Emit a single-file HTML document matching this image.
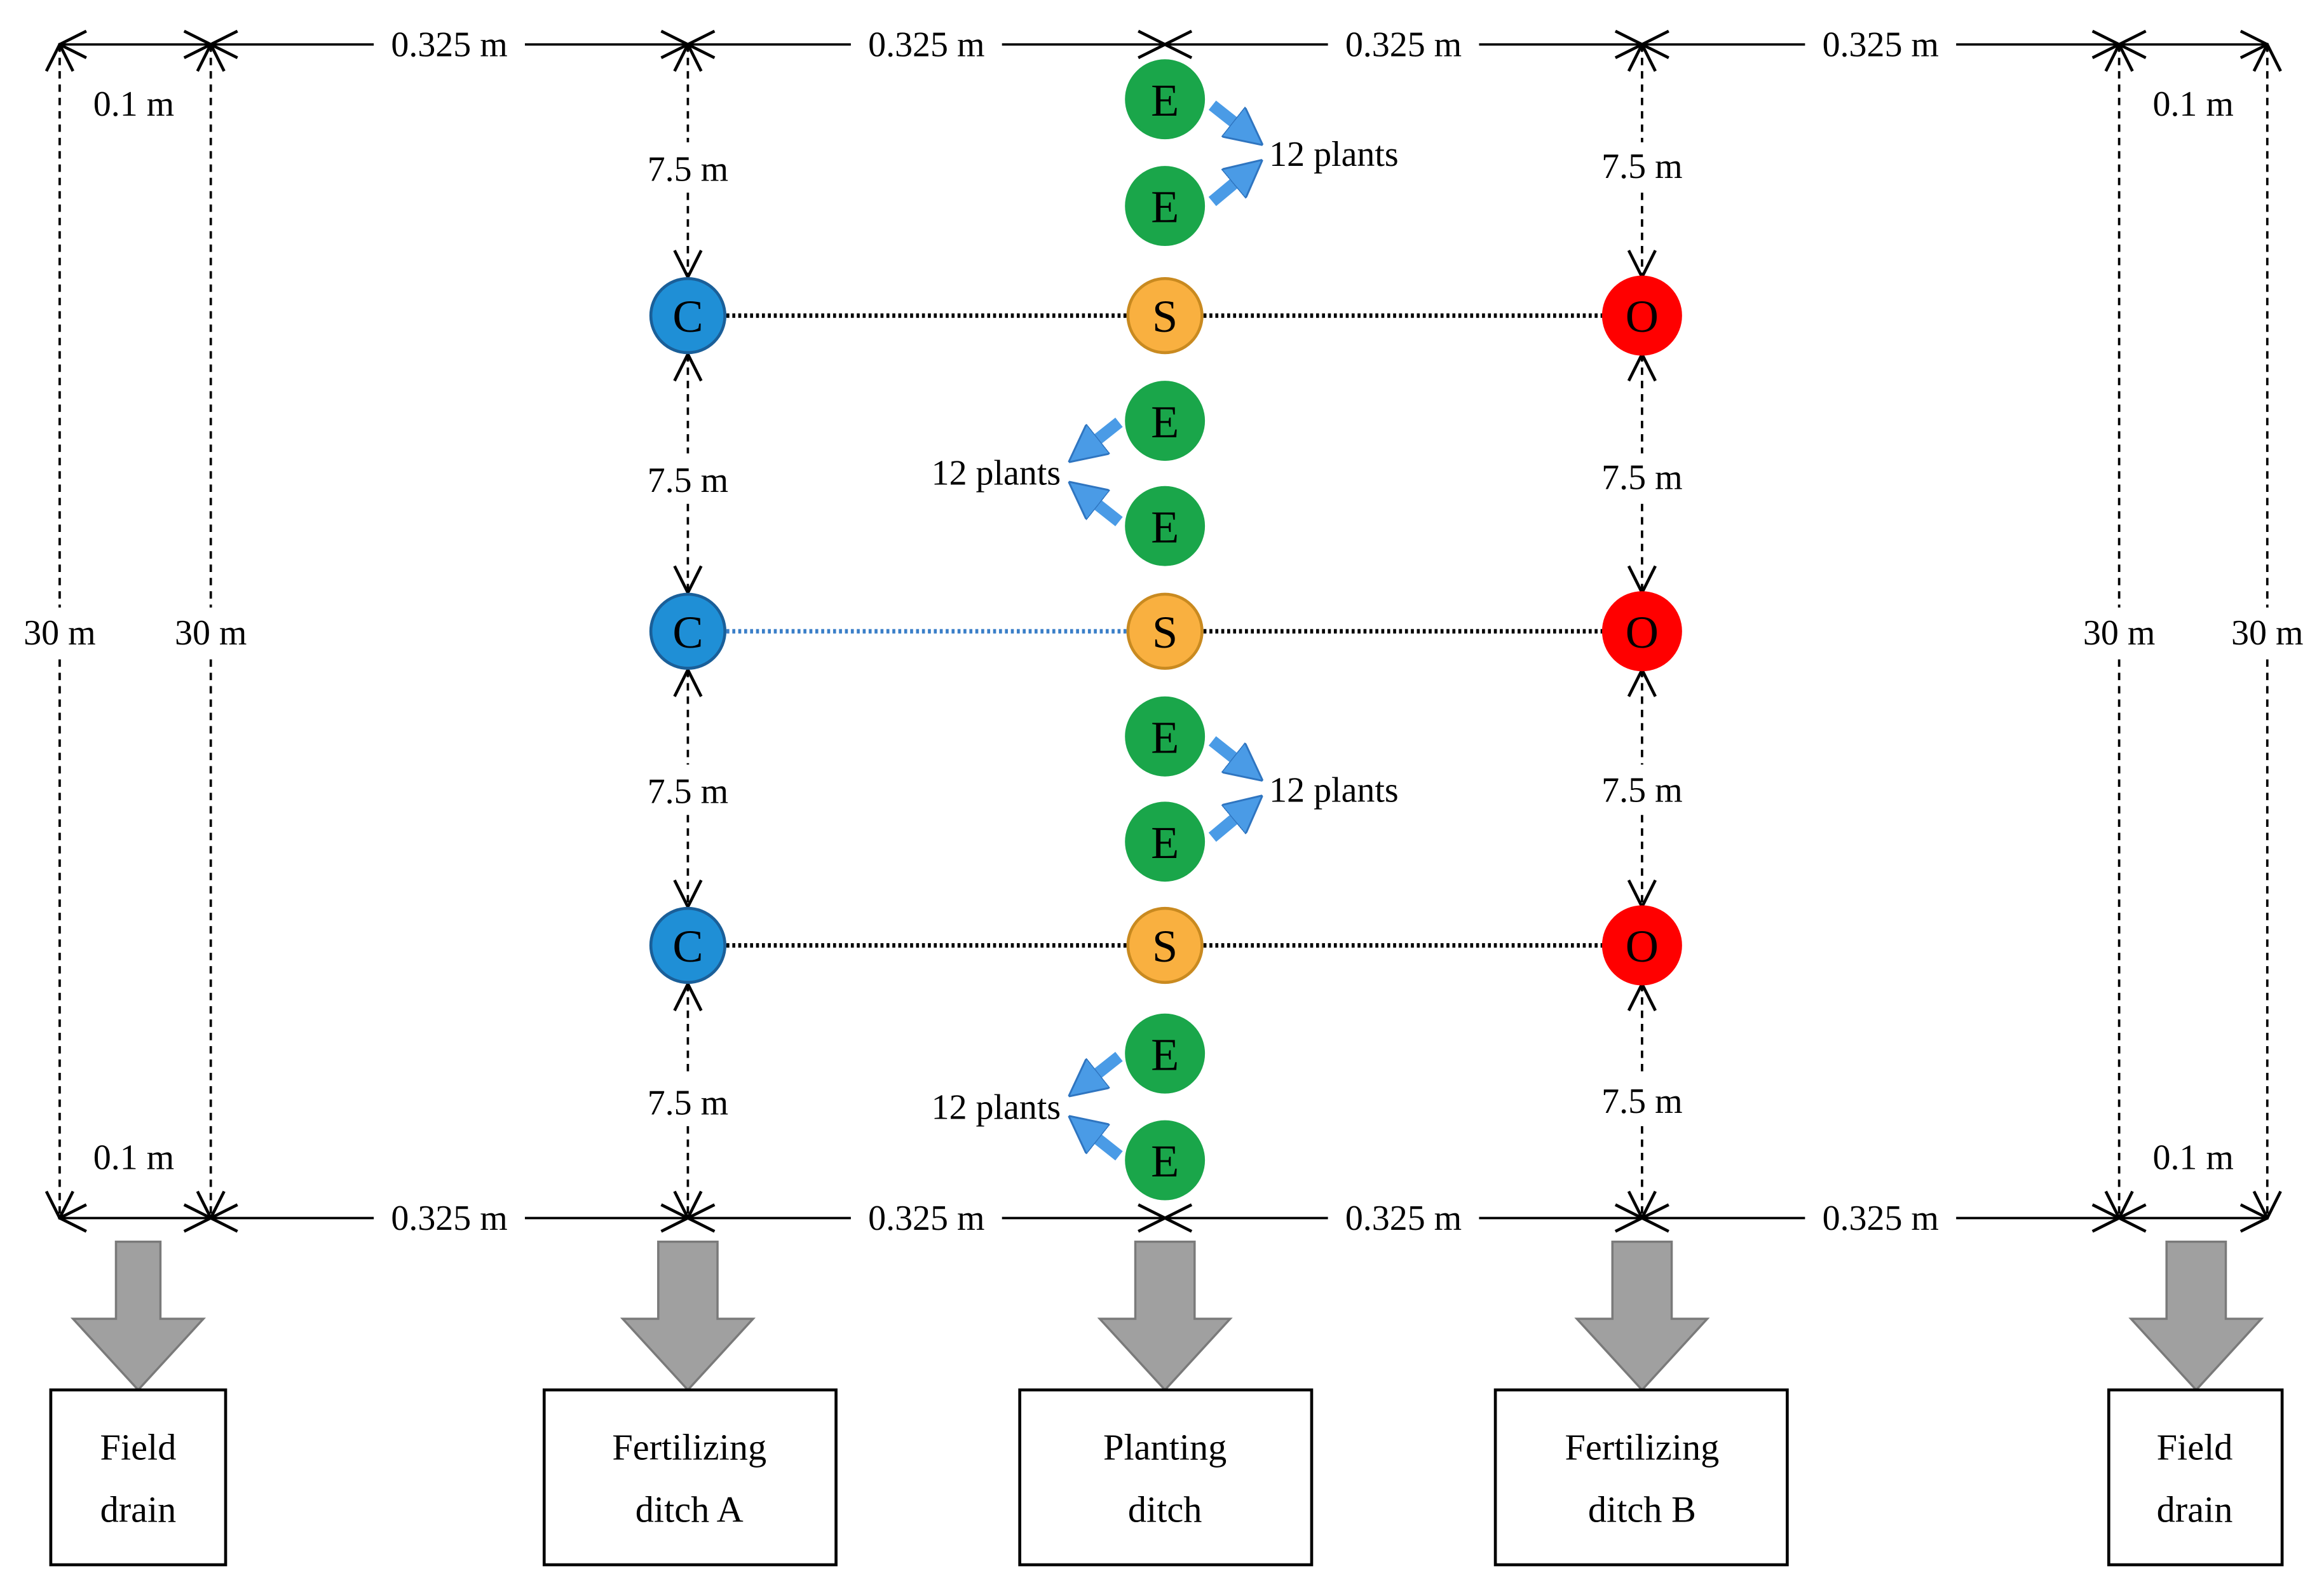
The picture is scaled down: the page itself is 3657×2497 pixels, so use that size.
<!DOCTYPE html>
<html><head><meta charset="utf-8"><style>
html,body{margin:0;padding:0;background:#fff;}
svg{display:block;}
text{font-family:"Liberation Serif",serif;font-size:24px;fill:#000;}
text.big{font-size:31px;}
text.box{font-size:25px;}
</style></head><body>
<svg width="3657" height="2497" viewBox="0 0 1568 1071" xmlns="http://www.w3.org/2000/svg">
<defs>
<marker id="v" viewBox="0 0 20 20" refX="19" refY="10" markerWidth="20" markerHeight="20" markerUnits="userSpaceOnUse" orient="auto-start-reverse">
<path d="M1,1 L19,10 L1,19" fill="none" stroke="#000" stroke-width="2"/>
</marker>
<marker id="ba" viewBox="0 0 10 10" refX="5" refY="5" markerWidth="3.2" markerHeight="3.2" orient="auto">
<path d="M0,0 L10,5 L0,10 z" fill="#4a9be6" stroke="#2f75c0" stroke-width="0.5"/>
</marker>
</defs>
<g stroke="#000" stroke-width="1.6" fill="none">
<line x1="40" y1="30" x2="142" y2="30" marker-start="url(#v)" marker-end="url(#v)"/>
<line x1="142" y1="30" x2="252" y2="30" marker-start="url(#v)"/><line x1="354" y1="30" x2="464" y2="30" marker-end="url(#v)"/>
<line x1="464" y1="30" x2="574" y2="30" marker-start="url(#v)"/><line x1="676" y1="30" x2="786" y2="30" marker-end="url(#v)"/>
<line x1="786" y1="30" x2="896" y2="30" marker-start="url(#v)"/><line x1="998" y1="30" x2="1108" y2="30" marker-end="url(#v)"/>
<line x1="1108" y1="30" x2="1218" y2="30" marker-start="url(#v)"/><line x1="1320" y1="30" x2="1430" y2="30" marker-end="url(#v)"/>
<line x1="1430" y1="30" x2="1530" y2="30" marker-start="url(#v)" marker-end="url(#v)"/>

<line x1="40" y1="822" x2="142" y2="822" marker-start="url(#v)" marker-end="url(#v)"/>
<line x1="142" y1="822" x2="252" y2="822" marker-start="url(#v)"/><line x1="354" y1="822" x2="464" y2="822" marker-end="url(#v)"/>
<line x1="464" y1="822" x2="574" y2="822" marker-start="url(#v)"/><line x1="676" y1="822" x2="786" y2="822" marker-end="url(#v)"/>
<line x1="786" y1="822" x2="896" y2="822" marker-start="url(#v)"/><line x1="998" y1="822" x2="1108" y2="822" marker-end="url(#v)"/>
<line x1="1108" y1="822" x2="1218" y2="822" marker-start="url(#v)"/><line x1="1320" y1="822" x2="1430" y2="822" marker-end="url(#v)"/>
<line x1="1430" y1="822" x2="1530" y2="822" marker-start="url(#v)" marker-end="url(#v)"/>
</g>
<g stroke="#000" stroke-width="1.6" fill="none" stroke-dasharray="5,4">
<line x1="40" y1="30" x2="40" y2="410" marker-start="url(#v)"/><line x1="40" y1="445" x2="40" y2="822" marker-end="url(#v)"/>
<line x1="142" y1="30" x2="142" y2="410" marker-start="url(#v)"/><line x1="142" y1="445" x2="142" y2="822" marker-end="url(#v)"/>
<line x1="1430" y1="30" x2="1430" y2="410" marker-start="url(#v)"/><line x1="1430" y1="445" x2="1430" y2="822" marker-end="url(#v)"/>
<line x1="1530" y1="30" x2="1530" y2="410" marker-start="url(#v)"/><line x1="1530" y1="445" x2="1530" y2="822" marker-end="url(#v)"/>
<line x1="464" y1="30" x2="464" y2="96" marker-start="url(#v)"/><line x1="464" y1="130" x2="464" y2="187" marker-end="url(#v)"/>
<line x1="464" y1="239" x2="464" y2="306" marker-start="url(#v)"/><line x1="464" y1="340" x2="464" y2="400" marker-end="url(#v)"/>
<line x1="464" y1="452" x2="464" y2="516" marker-start="url(#v)"/><line x1="464" y1="550" x2="464" y2="612" marker-end="url(#v)"/>
<line x1="464" y1="664" x2="464" y2="726" marker-start="url(#v)"/><line x1="464" y1="760" x2="464" y2="822" marker-end="url(#v)"/>
<line x1="1108" y1="30" x2="1108" y2="96" marker-start="url(#v)"/><line x1="1108" y1="130" x2="1108" y2="187" marker-end="url(#v)"/>
<line x1="1108" y1="239" x2="1108" y2="306" marker-start="url(#v)"/><line x1="1108" y1="340" x2="1108" y2="400" marker-end="url(#v)"/>
<line x1="1108" y1="452" x2="1108" y2="516" marker-start="url(#v)"/><line x1="1108" y1="550" x2="1108" y2="612" marker-end="url(#v)"/>
<line x1="1108" y1="664" x2="1108" y2="726" marker-start="url(#v)"/><line x1="1108" y1="760" x2="1108" y2="822" marker-end="url(#v)"/>
</g>
<g stroke-width="3" stroke-dasharray="2,2" fill="none">
<line x1="490" y1="213" x2="760" y2="213" stroke="#000"/><line x1="812" y1="213" x2="1082" y2="213" stroke="#000"/>
<line x1="490" y1="426" x2="760" y2="426" stroke="#3a7fc8"/><line x1="812" y1="426" x2="1082" y2="426" stroke="#000"/>
<line x1="490" y1="638" x2="760" y2="638" stroke="#000"/><line x1="812" y1="638" x2="1082" y2="638" stroke="#000"/>
</g>
<g stroke-width="2">
<g fill="#1f8fd6" stroke="#1a5f99"><circle cx="464" cy="213" r="25"/><circle cx="464" cy="426" r="25"/><circle cx="464" cy="638" r="25"/></g>
<g fill="#f9b040" stroke="#c98a20"><circle cx="786" cy="213" r="25"/><circle cx="786" cy="426" r="25"/><circle cx="786" cy="638" r="25"/></g>
<g fill="#ff0000" stroke="#ff0000"><circle cx="1108" cy="213" r="26"/><circle cx="1108" cy="426" r="26"/><circle cx="1108" cy="638" r="26"/></g>
<g fill="#1aa64a" stroke="#1aa64a"><circle cx="786" cy="67" r="26"/><circle cx="786" cy="139" r="26"/><circle cx="786" cy="284" r="26"/><circle cx="786" cy="355" r="26"/><circle cx="786" cy="497" r="26"/><circle cx="786" cy="568" r="26"/><circle cx="786" cy="711" r="26"/><circle cx="786" cy="783" r="26"/></g>
</g>
<g text-anchor="middle">
<text class="big" x="464" y="224">C</text><text class="big" x="464" y="437">C</text><text class="big" x="464" y="649">C</text>
<text class="big" x="786" y="224">S</text><text class="big" x="786" y="437">S</text><text class="big" x="786" y="649">S</text>
<text class="big" x="1108" y="224">O</text><text class="big" x="1108" y="437">O</text><text class="big" x="1108" y="649">O</text>
<text class="big" x="786" y="78">E</text><text class="big" x="786" y="150">E</text><text class="big" x="786" y="295">E</text><text class="big" x="786" y="366">E</text>
<text class="big" x="786" y="508">E</text><text class="big" x="786" y="579">E</text><text class="big" x="786" y="722">E</text><text class="big" x="786" y="794">E</text>
</g>
<g stroke="#4a9be6" stroke-width="8" fill="none">
<line x1="818" y1="71" x2="842" y2="90" marker-end="url(#ba)"/><line x1="818" y1="136" x2="842" y2="116" marker-end="url(#ba)"/>
<line x1="818" y1="500" x2="842" y2="519" marker-end="url(#ba)"/><line x1="818" y1="565" x2="842" y2="545" marker-end="url(#ba)"/>
<line x1="755" y1="285" x2="731" y2="304" marker-end="url(#ba)"/><line x1="755" y1="352" x2="731" y2="333" marker-end="url(#ba)"/>
<line x1="755" y1="713" x2="731" y2="732" marker-end="url(#ba)"/><line x1="755" y1="780" x2="731" y2="761" marker-end="url(#ba)"/>
</g>
<g text-anchor="middle">
<text x="303" y="38">0.325 m</text><text x="625" y="38">0.325 m</text><text x="947" y="38">0.325 m</text><text x="1269" y="38">0.325 m</text>
<text x="303" y="830">0.325 m</text><text x="625" y="830">0.325 m</text><text x="947" y="830">0.325 m</text><text x="1269" y="830">0.325 m</text>
<text x="90" y="78">0.1 m</text><text x="1480" y="78">0.1 m</text><text x="90" y="789">0.1 m</text><text x="1480" y="789">0.1 m</text>
<text x="40" y="435">30 m</text><text x="142" y="435">30 m</text><text x="1430" y="435">30 m</text><text x="1530" y="435">30 m</text>
<text x="464" y="122">7.5 m</text><text x="464" y="332">7.5 m</text><text x="464" y="542">7.5 m</text><text x="464" y="752">7.5 m</text>
<text x="1108" y="120">7.5 m</text><text x="1108" y="330">7.5 m</text><text x="1108" y="541">7.5 m</text><text x="1108" y="751">7.5 m</text>
<text x="900" y="112">12 plants</text><text x="900" y="541">12 plants</text>
<text x="672" y="327">12 plants</text><text x="672" y="755">12 plants</text>
</g>
<g fill="#a0a0a0" stroke="#7a7a7a" stroke-width="1.5">
<path d="M78,838 H108 V890 H137 L93,938 L49,890 H78 Z"/>
<path d="M444,838 H484 V890 H508 L464,938 L420,890 H444 Z"/>
<path d="M766,838 H806 V890 H830 L786,938 L742,890 H766 Z"/>
<path d="M1088,838 H1128 V890 H1152 L1108,938 L1064,890 H1088 Z"/>
<path d="M1462,838 H1502 V890 H1526 L1482,938 L1438,890 H1462 Z"/>
</g>
<g fill="#fff" stroke="#000" stroke-width="2">
<rect x="34" y="938" width="118" height="118"/><rect x="367" y="938" width="197" height="118"/>
<rect x="688" y="938" width="197" height="118"/><rect x="1009" y="938" width="197" height="118"/>
<rect x="1423" y="938" width="117" height="118"/>
</g>
<g text-anchor="middle">
<text class="box" x="93" y="985">Field</text><text class="box" x="93" y="1027">drain</text>
<text class="box" x="465" y="985">Fertilizing</text><text class="box" x="465" y="1027">ditch A</text>
<text class="box" x="786" y="985">Planting</text><text class="box" x="786" y="1027">ditch</text>
<text class="box" x="1108" y="985">Fertilizing</text><text class="box" x="1108" y="1027">ditch B</text>
<text class="box" x="1481" y="985">Field</text><text class="box" x="1481" y="1027">drain</text>
</g>
</svg>
</body></html>
